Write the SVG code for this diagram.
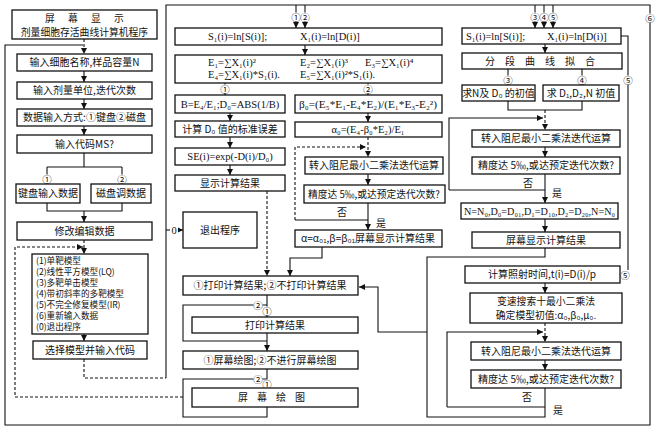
<svg xmlns="http://www.w3.org/2000/svg" width="659" height="436" viewBox="0 0 659 436">
<defs>
<marker id="ah" viewBox="0 0 8 8" refX="8" refY="4" markerWidth="6" markerHeight="6" orient="auto" markerUnits="userSpaceOnUse"><path d="M0,0 L8,4 L0,8 z" fill="#111"/></marker>
<style>
.b{fill:#fff;stroke:#111;stroke-width:1.3}
.l path{fill:none;stroke:#111;stroke-width:1.1}
.l path.d{stroke-dasharray:3 2}
.a{marker-end:url(#ah)}
.t{font-family:"Noto Sans CJK SC",sans-serif;font-size:10px;fill:#111;text-anchor:middle}
.t2{font-size:9.8px}
.tl{font-family:"Noto Sans CJK SC",sans-serif;font-size:8.6px;fill:#111}
.f{font-family:"Liberation Serif","Noto Sans CJK SC",serif;font-size:10.5px;fill:#111}
.fm{font-family:"Liberation Serif","Noto Sans CJK SC",serif;font-size:10.5px;fill:#111;text-anchor:middle}
.cb{fill:#fff}
.cn{font-family:"Noto Sans CJK SC",sans-serif;font-size:9.5px;fill:#111;text-anchor:middle}
</style>
</defs>
<rect width="659" height="436" fill="#fff"/>

<g id="connectors" class="l">
<path d="M166 378 V5 H650 V425 H5 V45 H83"/>
<path class="d a" d="M84 39 V54"/>
<path class="a" d="M84 71 V82"/>
<path class="a" d="M84 99 V109"/>
<path class="a" d="M84 126 V135"/>
<path d="M84 153 V167 M47 167 H122"/>
<path class="a" d="M47 167 V184"/>
<path class="a" d="M122 167 V184"/>
<path d="M47 203 V211 H122 V203"/>
<path class="a" d="M84 211 V222"/>
<path class="d a" d="M84 240 V254"/>
<path class="d a" d="M183 397 H15 V247 H83"/>
<path class="d a" d="M84 334 V341"/>
<path class="d" d="M84 359 V378 H166"/>
<path class="a" d="M166 230 H183"/>

<path class="a" d="M296 5 V28"/>
<path class="a" d="M305 5 V28"/>
<path class="a" d="M305 45 V55"/>
<path class="a" d="M225 83 V95"/>
<path class="a" d="M368 83 V95"/>
<path class="a" d="M230 113 V121"/>
<path class="a" d="M230 137 V148"/>
<path class="a" d="M230 165 V175"/>
<path class="d a" d="M267 191 V276"/>
<path class="a" d="M368 113 V122"/>
<path class="d a" d="M368 137 V157"/>
<path class="d a" d="M295 220 V147 H366"/>
<path class="a" d="M368 174 V185"/>
<path class="a" d="M368 203 V230"/>
<path d="M368 220 H295"/>
<path class="a" d="M322 247 V258 H290 V276"/>
<path class="a" d="M427 332 H378 V287 H359"/>
<path class="a" d="M267 295 V317"/>
<path d="M267 305 H183 V341 H267"/>
<path class="a" d="M267 333 V351"/>
<path class="a" d="M267 369 V388"/>
<path d="M267 379 H183 V417 H267 V407"/>

<path class="a" d="M535 5 V28"/>
<path class="a" d="M544 5 V28"/>
<path class="a" d="M553 5 V28"/>
<path d="M621 36 H628 V270"/>
<path class="a" d="M545 44 V53"/>
<path class="a" d="M508 69 V85"/>
<path class="a" d="M582 69 V85"/>
<path d="M508 101 V110 H582 V101"/>
<path class="d a" d="M545 110 V130"/>
<path class="a" d="M449 190 V118 H543"/>
<path class="a" d="M545 147 V157"/>
<path class="a" d="M545 174 V203"/>
<path d="M545 190 H449"/>
<path class="a" d="M545 219 V232"/>
<path d="M545 248 V257 H427 V417 H545 V388"/>
<path class="a" d="M545 283 V293"/>
<path class="d a" d="M545 323 V342"/>
<path class="a" d="M447 407 V332 H543"/>
<path class="a" d="M545 360 V370"/>
<path d="M545 407 H447"/>

<g id="labels">
<circle class="cb" cx="296" cy="17" r="4.6"/><circle class="cb" cx="305" cy="17" r="4.6"/>
<text class="cn" x="296" y="20.5">①</text><text class="cn" x="305" y="20.5">②</text>
<circle class="cb" cx="535" cy="17" r="4.6"/><circle class="cb" cx="544" cy="17" r="4.6"/><circle class="cb" cx="553" cy="17" r="4.6"/>
<text class="cn" x="535" y="20.5">③</text><text class="cn" x="544" y="20.5">④</text><text class="cn" x="553" y="20.5">⑤</text>
<circle class="cb" cx="650" cy="18" r="4.6"/><text class="cn" x="650" y="21.5">⑥</text>
<circle class="cb" cx="628" cy="80" r="4.6"/><text class="cn" x="628" y="83.5">⑤</text>
<circle class="cb" cx="625" cy="275" r="4.6"/><text class="cn" x="625" y="278.5">⑤</text>
<circle class="cb" cx="225" cy="89" r="4.6"/><text class="cn" x="225" y="92.5">①</text>
<circle class="cb" cx="368" cy="89" r="4.6"/><text class="cn" x="368" y="92.5">②</text>
<circle class="cb" cx="47" cy="179" r="4.6"/><text class="cn" x="47" y="182.5">①</text>
<circle class="cb" cx="122" cy="179" r="4.6"/><text class="cn" x="122" y="182.5">②</text>
<circle class="cb" cx="508" cy="80" r="4.6"/><text class="cn" x="508" y="83.5">③</text>
<circle class="cb" cx="582" cy="80" r="4.6"/><text class="cn" x="582" y="83.5">④</text>
<circle class="cb" cx="258" cy="305" r="4.6"/><text class="cn" x="258" y="308.5">②</text>
<circle class="cb" cx="267" cy="311" r="4.6"/><text class="cn" x="267" y="314.5">①</text>
<circle class="cb" cx="258" cy="379" r="4.6"/><text class="cn" x="258" y="382.5">②</text>
<circle class="cb" cx="267" cy="384" r="4.6"/><text class="cn" x="267" y="387.5">①</text>
<rect class="cb" x="170" y="224" width="8" height="12"/><text class="fm" x="174" y="234">0</text>
<text class="t" x="342" y="216">否</text><text class="t" x="381" y="227">是</text>
<text class="t" x="528" y="187">否</text><text class="t" x="557" y="197">是</text>
<text class="t" x="527" y="401">否</text><text class="t" x="558" y="414">是</text>
</g>
</g>

<g id="n-title"><rect class="b" x="12" y="10" width="145" height="29"/>
<text class="t t2" x="50 73 96 119" y="21.5">屏幕显示</text>
<text class="t t2" x="84.5" y="36">剂量细胞存活曲线计算机程序</text></g>
<g id="n-input-name"><rect class="b" x="17" y="54" width="135" height="17"/><text class="t" x="84.5" y="66">输入细胞名称,样品容量N</text></g>
<g id="n-input-dose"><rect class="b" x="17" y="82" width="135" height="17"/><text class="t" x="84.5" y="94">输入剂量单位,迭代次数</text></g>
<g id="n-input-mode"><rect class="b" x="17" y="109" width="135" height="17"/><text class="t" x="84.5" y="121">数据输入方式:①键盘②磁盘</text></g>
<g id="n-input-ms"><rect class="b" x="17" y="135" width="135" height="18"/><text class="t" x="84.5" y="148">输入代码MS?</text></g>
<g id="n-keyboard"><rect class="b" x="16" y="184" width="64" height="19"/><text class="t" x="48" y="197">键盘输入数据</text></g>
<g id="n-disk"><rect class="b" x="91" y="184" width="60" height="19"/><text class="t" x="121" y="197">磁盘调数据</text></g>
<g id="n-edit"><rect class="b" x="17" y="222" width="135" height="18"/><text class="t" x="84.5" y="235">修改编辑数据</text></g>
<g id="n-models"><rect class="b" x="32" y="254" width="116" height="80"/>
<text class="tl" x="36" y="264">(1)单靶模型</text>
<text class="tl" x="36" y="275">(2)线性平方模型(LQ)</text>
<text class="tl" x="36" y="286">(3)多靶单击模型</text>
<text class="tl" x="36" y="297">(4)带初斜率的多靶模型</text>
<text class="tl" x="36" y="308">(5)不完全修复模型(IR)</text>
<text class="tl" x="36" y="319">(6)重新输入数据</text>
<text class="tl" x="36" y="330">(0)退出程序</text></g>
<g id="n-select"><rect class="b" x="33" y="341" width="114" height="18"/><text class="t" x="90" y="354">选择模型并输入代码</text></g>
<g id="n-exit"><rect class="b" x="183" y="212" width="74" height="36"/><text class="t" x="220" y="234">退出程序</text></g>

<g id="n-m-log"><rect class="b" x="175" y="28" width="267" height="17"/>
<text class="f" x="208" y="40">S₁(i)=ln[S(i)];</text><text class="f" x="300" y="40">X₁(i)=ln[D(i)]</text></g>
<g id="n-m-sums"><rect class="b" x="175" y="55" width="267" height="28"/>
<text class="f" x="208" y="66">E₁=∑X₁(i)²</text><text class="f" x="300" y="66">E₂=∑X₁(i)³</text><text class="f" x="365" y="66">E₃=∑X₁(i)⁴</text>
<text class="f" x="208" y="78">E₄=∑X₁(i)*S₁(i).</text><text class="f" x="300" y="78">E₅=∑X₁(i)²*S₁(i).</text></g>
<g id="n-m-b"><rect class="b" x="175" y="95" width="110" height="18"/><text class="fm" x="230" y="108">B=E₄/E₁;D₀=ABS(1/B)</text></g>
<g id="n-m-err"><rect class="b" x="175" y="121" width="110" height="16"/><text class="t" x="230" y="133">计算 D₀ 值的标准误差</text></g>
<g id="n-m-se"><rect class="b" x="175" y="148" width="110" height="17"/><text class="fm" x="230" y="160">SE(i)=exp(-D(i)/D₀)</text></g>
<g id="n-m-show"><rect class="b" x="175" y="175" width="110" height="16"/><text class="t" x="230" y="187">显示计算结果</text></g>
<g id="n-m-beta"><rect class="b" x="295" y="95" width="147" height="18"/><text class="fm" x="368" y="108" textLength="138" lengthAdjust="spacingAndGlyphs">β₀=(E₅*E₁-E₄*E₂)/(E₁*E₃-E₂²)</text></g>
<g id="n-m-alpha"><rect class="b" x="295" y="122" width="147" height="15"/><text class="fm" x="368" y="133">α₀=(E₄-β₀*E₂)/E₁</text></g>
<g id="n-m-iter"><rect class="b" x="305" y="157" width="138" height="17"/><text class="t" x="374" y="169">转入阻尼最小二乘法迭代运算</text></g>
<g id="n-m-prec"><rect class="b" x="304" y="185" width="141" height="18"/><text class="t" x="374" y="198" textLength="132" lengthAdjust="spacingAndGlyphs">精度达 5‰,或达预定迭代次数?</text></g>
<g id="n-m-result"><rect class="b" x="295" y="230" width="147" height="17"/><text class="t" x="368" y="242">α=α₀₁,β=β₀₁屏幕显示计算结果</text></g>
<g id="n-print-q"><rect class="b" x="183" y="276" width="175" height="19"/><text class="t" x="270" y="289">①打印计算结果;②不打印计算结果</text></g>
<g id="n-print"><rect class="b" x="192" y="317" width="166" height="16"/><text class="t" x="275" y="329">打印计算结果</text></g>
<g id="n-plot-q"><rect class="b" x="183" y="351" width="175" height="18"/><text class="t" x="270" y="364">①屏幕绘图;②不进行屏幕绘图</text></g>
<g id="n-plot"><rect class="b" x="192" y="388" width="166" height="19"/><text class="t" x="243 262 281 300" y="401">屏幕绘图</text></g>

<g id="n-r-log"><rect class="b" x="462" y="28" width="159" height="16"/>
<text class="f" x="466" y="40">S₁(i)=ln[S(i)];</text><text class="f" x="547" y="40">X₁(i)=ln[D(i)]</text></g>
<g id="n-r-fit"><rect class="b" x="462" y="53" width="160" height="16"/><text class="t" x="490 510 530 550 570 590" y="65">分段曲线拟合</text></g>
<g id="n-r-n"><rect class="b" x="462" y="85" width="73" height="16"/><text class="t" x="498.5" y="97">求N及 D₀ 的初值</text></g>
<g id="n-r-d"><rect class="b" x="543" y="85" width="76" height="16"/><text class="t" x="581" y="97">求 D₁,D₂,N 初值</text></g>
<g id="n-r-iter1"><rect class="b" x="472" y="130" width="148" height="17"/><text class="t" x="546" y="142">转入阻尼最小二乘法迭代运算</text></g>
<g id="n-r-prec1"><rect class="b" x="472" y="157" width="148" height="17"/><text class="t" x="546" y="169" textLength="136" lengthAdjust="spacingAndGlyphs">精度达 5‰,或达预定迭代次数?</text></g>
<g id="n-r-assign"><rect class="b" x="461" y="203" width="157" height="16"/><text class="fm" x="539.5" y="215" textLength="151" lengthAdjust="spacingAndGlyphs">N=N₀,D₀=D₀₁,D₁=D₁₀,D₂=D₂₀,N=N₀</text></g>
<g id="n-r-show"><rect class="b" x="472" y="232" width="148" height="16"/><text class="t" x="546" y="244">屏幕显示计算结果</text></g>
<g id="n-r-time"><rect class="b" x="465" y="266" width="155" height="17"/><text class="t" x="542" y="278">计算照射时间,t(i)=D(i)/p</text></g>
<g id="n-r-search"><rect class="b" x="470" y="293" width="152" height="30"/><text class="t t2" x="546" y="304.5">变速搜索十最小二乘法</text><text class="t t2" x="546" y="319">确定模型初值:α₀,β₀,μ₀.</text></g>
<g id="n-r-iter2"><rect class="b" x="471" y="342" width="150" height="18"/><text class="t" x="546" y="355">转入阻尼最小二乘法迭代运算</text></g>
<g id="n-r-prec2"><rect class="b" x="471" y="370" width="150" height="18"/><text class="t" x="546" y="383" textLength="136" lengthAdjust="spacingAndGlyphs">精度达 5‰,或达预定迭代次数?</text></g>
</svg>
